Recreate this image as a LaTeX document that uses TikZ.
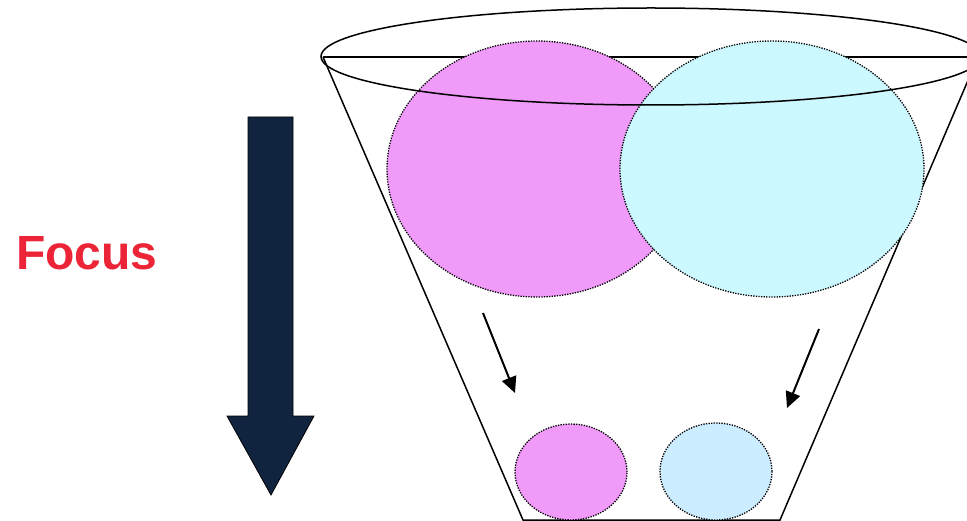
\documentclass[tikz,border=0pt]{standalone}
\usepackage{fontspec}
\setmainfont{Liberation Sans}
\usetikzlibrary{shapes.geometric,arrows.meta}
\definecolor{pinkfill}{RGB}{240,154,250}
\definecolor{cyanfill}{RGB}{204,248,255}
\definecolor{bluefill}{RGB}{204,236,255}
\definecolor{navy}{RGB}{16,36,64}
\definecolor{focusred}{RGB}{236,36,56}
\tikzset{
  rimline/.style={draw=black, line width=1.5pt},
  blob/.style={ellipse, draw=black, dash pattern=on 1.3pt off 1.3pt, line width=1.3pt, inner sep=0pt},
  smallarrow/.style={draw=black, line width=2pt, -{Triangle[length=16pt,width=15pt]}},
}
\begin{document}
\begin{tikzpicture}[x=1pt,y=-1pt]
\useasboundingbox (0,0) rectangle (967,521);
% cone
\coordinate (tl) at (323,57);
\coordinate (tr) at (978,57);
\coordinate (bl) at (523,520);
\coordinate (br) at (780,520);
\draw[rimline] (tl) -- (bl) -- (br) -- (tr);
\draw[rimline] (tl) -- (tr);
% big blobs
\node[blob, fill=pinkfill, minimum width=300pt, minimum height=256pt] (pinkbig) at (537,169) {};
\node[blob, fill=cyanfill, minimum width=304pt, minimum height=256pt] (cyanbig) at (772,169) {};
% rim
\node[ellipse, rimline, inner sep=0pt, minimum width=660pt, minimum height=97pt] (rim) at (651,56.5) {};
% small blobs
\node[blob, fill=pinkfill, minimum width=112pt, minimum height=96pt] (pinksmall) at (571,472) {};
\node[blob, fill=bluefill, minimum width=112pt, minimum height=97pt] (bluesmall) at (716,471.5) {};
% small arrows
\coordinate (a1s) at (483,313);
\coordinate (a1e) at (515,393);
\coordinate (a2s) at (819,329);
\coordinate (a2e) at (787,408);
\draw[smallarrow] (a1s) -- (a1e);
\draw[smallarrow] (a2s) -- (a2e);
% big arrow
\draw[fill=navy, draw=black, line width=0.8pt] (248,117) -- (293,117) -- (293,416) -- (314,416) -- (271,495) -- (227,416) -- (248,416) -- cycle;
% label
\node[font=\bfseries\fontsize{48}{48}\selectfont, text=focusred, anchor=base west, inner sep=0pt] (focus) at (16,270) {Focus};
\end{tikzpicture}
\end{document}
